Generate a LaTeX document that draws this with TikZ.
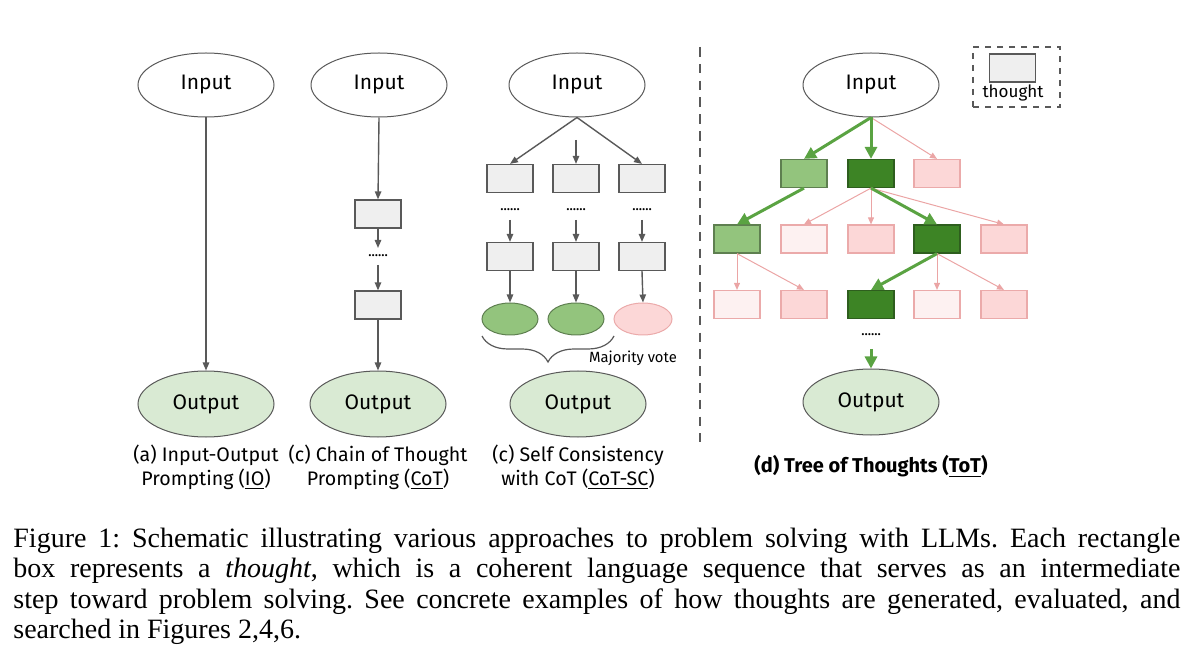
\documentclass[tikz,border=0pt]{standalone}
\usepackage{fontspec}
\setmainfont{Liberation Serif}
\newfontfamily\diag{Fira Sans}
\usetikzlibrary{arrows.meta,shapes.geometric,decorations.pathreplacing}
\definecolor{linegray}{HTML}{595959}
\definecolor{thoughtfill}{HTML}{EFEFEF}
\definecolor{outfill}{HTML}{D9EAD3}
\definecolor{lgreen}{HTML}{93C47D}
\definecolor{lgreenb}{HTML}{5E7F50}
\definecolor{dgreen}{HTML}{3D8425}
\definecolor{dgreenb}{HTML}{2E5E1E}
\definecolor{arrgreen}{HTML}{5AA342}
\definecolor{pinkfill}{HTML}{FCD7D7}
\definecolor{vpinkfill}{HTML}{FDF1F1}
\definecolor{pinkb}{HTML}{EBAAAA}
\definecolor{arrpink}{HTML}{EBA5A5}
\frenchspacing
\begin{document}
\begin{tikzpicture}[x=0.5pt,y=-0.5pt,
  every node/.style={inner sep=0pt},
  dfont/.style={font=\diag\fontsize{10.5}{12.5}\selectfont},
  inell/.style={ellipse,draw=linegray,line width=0.5pt,minimum width=68pt,minimum height=32pt,dfont},
  outell/.style={ellipse,draw=linegray,line width=0.5pt,fill=outfill,minimum width=68pt,minimum height=33pt,dfont},
  tbox/.style={rectangle,draw=linegray,line width=0.6pt,fill=thoughtfill,minimum width=23pt,minimum height=14pt},
  lgbox/.style={tbox,draw=lgreenb,fill=lgreen},
  dgbox/.style={tbox,draw=dgreenb,fill=dgreen},
  pkbox/.style={tbox,draw=pinkb,fill=pinkfill},
  vpkbox/.style={tbox,draw=pinkb,fill=vpinkfill},
  dotsn/.style={font=\bfseries\fontsize{6.5}{8}\selectfont},
  garr/.style={draw=linegray,line width=0.7pt,-{Triangle[length=4pt,width=3.2pt]}},
  gtarr/.style={draw=arrgreen,line width=1.5pt,-{Triangle[length=6pt,width=6pt]}},
  ptarr/.style={draw=arrpink,line width=0.5pt,-{Triangle[length=3.5pt,width=3pt]}},
  lab/.style={font=\diag\fontsize{9.8}{12}\selectfont,align=center},
  capline/.style={anchor=base west,font=\fontsize{14}{16}\selectfont}
]
\useasboundingbox (0,0) rectangle (1200,652);

% ---------- (a) IO ----------
\node[inell] (ioin) at (206,85) {Input};
\node[outell] (ioout) at (206,404) {Output};
\draw[garr] (ioin.south) -- (ioout.north);
\node[lab,anchor=base] (iolab1) at (206,461) {(a) Input-Output};
\node[lab,anchor=base] (iolab2) at (206,485) {Prompting (\underline{IO})};

% ---------- (c) CoT ----------
\node[inell] (cotin) at (379,85) {Input};
\node[tbox] (cott1) at (378,214) {};
\node[dotsn] (cotdots) at (378,256) {......};
\node[tbox] (cott2) at (378,305) {};
\node[outell] (cotout) at (378,404) {Output};
\coordinate (cotc1) at (378,248);
\coordinate (cotc2) at (378,265);
\draw[garr] (cotin.south) -- (cott1.north);
\draw[garr] (cott1.south) -- (cotc1);
\draw[garr] (cotc2) -- (cott2.north);
\draw[garr] (cott2.south) -- (cotout.north);
\node[lab,anchor=base] (cotlab1) at (378,461) {(c) Chain of Thought};
\node[lab,anchor=base] (cotlab2) at (378,485) {Prompting (\underline{CoT})};

% ---------- (c) CoT-SC ----------
\node[inell] (scin) at (577,85) {Input};
\node[tbox] (sca1) at (510,178.5) {};
\node[tbox] (scb1) at (576,178.5) {};
\node[tbox] (scc1) at (642,178.5) {};
\node[dotsn] (scad) at (510,210) {......};
\node[dotsn] (scbd) at (576,210) {......};
\node[dotsn] (sccd) at (642,210) {......};
\node[tbox] (sca2) at (510,256.5) {};
\node[tbox] (scb2) at (576,256.5) {};
\node[tbox] (scc2) at (642,256.5) {};
\node[ellipse,draw=lgreenb,fill=lgreen,line width=0.5pt,minimum width=28pt,minimum height=16pt] (scae) at (510,319) {};
\node[ellipse,draw=lgreenb,fill=lgreen,line width=0.5pt,minimum width=28pt,minimum height=16pt] (scbe) at (576,319) {};
\node[ellipse,draw=pinkb,fill=pinkfill,line width=0.5pt,minimum width=29pt,minimum height=16pt] (scce) at (643,319) {};
\node[outell] (scout) at (578,404) {Output};
\coordinate (scbs) at (576,140);
\coordinate (scat) at (510,220);
\coordinate (scbt) at (576,220);
\coordinate (scct) at (642,220);
\draw[garr] (scin.south) -- (sca1.north);
\draw[garr] (scin.south) -- (scc1.north);
\draw[garr] (scbs) -- (scb1.north);
\draw[garr] (scat) -- (sca2.north);
\draw[garr] (scbt) -- (scb2.north);
\draw[garr] (scct) -- (scc2.north);
\draw[garr] (sca2.south) -- (scae.north);
\draw[garr] (scb2.south) -- (scbe.north);
\draw[garr] (scc2.south) -- (scce.north);
\coordinate (brl) at (482,336);
\coordinate (brr) at (614,336);
\draw[linegray,line width=0.6pt,decorate,decoration={brace,mirror,amplitude=13pt}] (brl) -- (brr);
\node[font=\diag\fontsize{7.4}{9}\selectfont] (majv) at (633,358) {Majority vote};
\node[lab,anchor=base] (sclab1) at (578,461) {(c) Self Consistency};
\node[lab,anchor=base] (sclab2) at (578,485) {with CoT (\underline{CoT-SC})};

% ---------- divider ----------
\coordinate (divt) at (700,47);
\coordinate (divb) at (700,442);
\draw[linegray,line width=1.1pt,dash pattern=on 4.8pt off 3.6pt] (divt) -- (divb);

% ---------- (d) ToT ----------
\node[inell] (totin) at (871,85) {Input};
\node[lgbox] (r1a) at (804,173.5) {};
\node[dgbox] (r1b) at (871,173.5) {};
\node[pkbox] (r1c) at (937,173.5) {};
\node[lgbox] (r2a) at (737,239) {};
\node[vpkbox] (r2b) at (804,239) {};
\node[pkbox] (r2c) at (871,239) {};
\node[dgbox] (r2d) at (937,239) {};
\node[pkbox] (r2e) at (1004,239) {};
\node[vpkbox] (r3a) at (737,304.5) {};
\node[pkbox] (r3b) at (804,304.5) {};
\node[dgbox] (r3c) at (871,304.5) {};
\node[vpkbox] (r3d) at (937,304.5) {};
\node[pkbox] (r3e) at (1004,304.5) {};
\node[dotsn] (totdots) at (871,335) {......};
\node[outell] (totout) at (871,402) {Output};
\coordinate (totc) at (871,349);
% pink edges
\draw[ptarr] (totin.south) -- (r1c.north);
\draw[ptarr] (r1b.south) -- (r2b.north);
\draw[ptarr] (r1b.south) -- (r2c.north);
\draw[ptarr] (r1b.south) -- (r2e.north);
\draw[ptarr] (r2a.south) -- (r3a.north);
\draw[ptarr] (r2a.south) -- (r3b.north);
\draw[ptarr] (r2d.south) -- (r3d.north);
\draw[ptarr] (r2d.south) -- (r3e.north);
% green edges
\draw[gtarr] (totin.south) -- (r1a.north);
\draw[gtarr] (totin.south) -- (r1b.north);
\draw[gtarr] (r1a.south) -- (r2a.north);
\draw[gtarr] (r1b.south) -- (r2d.north);
\draw[gtarr] (r2d.south) -- (r3c.north);
\draw[gtarr] (totc) -- (totout.north);
\node[font=\diag\bfseries\fontsize{10}{12}\selectfont,anchor=base] (totlab) at (871,473) {(d) Tree of Thoughts (\underline{ToT})};

% legend
\node[draw=linegray,dashed,line width=0.6pt,minimum width=43.5pt,minimum height=30pt] (legend) at (1016.5,77) {};
\node[tbox] (legbox) at (1012.5,68) {};
\node[font=\diag\fontsize{8.5}{10}\selectfont] (legtxt) at (1013,93) {thought};

% ---------- caption ----------
\node[capline] (cap1) at (13,547) {\makebox[583.5pt][s]{Figure 1: Schematic illustrating various approaches to problem solving with LLMs. Each rectangle}};
\node[capline] (cap2) at (13,577.5) {\makebox[583.5pt][s]{box represents a \textit{thought}, which is a coherent language sequence that serves as an intermediate}};
\node[capline] (cap3) at (13,608) {\makebox[583.5pt][s]{step toward problem solving. See concrete examples of how thoughts are generated, evaluated, and}};
\node[capline] (cap4) at (13,638.5) {searched in Figures 2,4,6.};
\end{tikzpicture}
\end{document}
